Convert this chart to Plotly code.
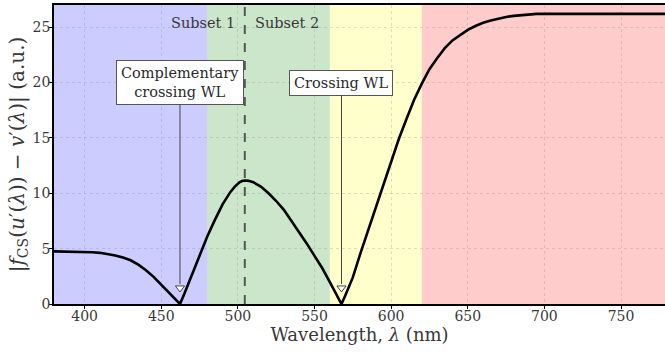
import plotly.graph_objects as go

# ---- data ----
wavelength = [380, 390, 400, 405, 410, 415, 420, 425, 430, 435, 440, 445, 450, 455, 460, 462.2,
              465, 470, 475, 480, 485, 490, 495, 498, 501, 503, 505, 507, 510, 515, 520, 525, 530, 535,
              540, 545, 550, 555, 560, 565, 567.6,
              570, 575, 580, 585, 590, 595, 600, 605, 610, 615, 620, 625, 630, 635, 640, 645,
              650, 655, 660, 665, 670, 675, 680, 685, 690, 695, 700, 740, 780]
diff = [4.75, 4.73, 4.70, 4.67, 4.62, 4.52, 4.38, 4.20, 3.95, 3.55, 3.05, 2.45, 1.75, 1.03, 0.32, 0.0,
        0.9, 2.6, 4.3, 6.1, 7.6, 9.0, 10.1, 10.6, 10.98, 11.12, 11.15, 11.12, 11.0, 10.6, 10.0, 9.3, 8.5, 7.5,
        6.5, 5.45, 4.35, 3.25, 1.98, 0.69, 0.0,
        0.75, 2.4, 4.6, 6.7, 8.8, 10.85, 12.9, 14.9, 16.7, 18.45, 19.9, 21.2, 22.2, 23.1, 23.8, 24.3,
        24.75, 25.1, 25.4, 25.6, 25.78, 25.92, 26.02, 26.1, 26.16, 26.2, 26.2, 26.2, 26.2]

band_edges = [380, 480, 560, 620, 780]
band_colors = ["rgba(0,0,255,0.2)", "rgba(0,128,0,0.2)", "rgba(255,255,0,0.2)", "rgba(255,0,0,0.2)"]
subset_boundary = 504.5
crossing_wl = [462.2, 567.6]
crossing_labels = ["Complementary<br>crossing WL", "Crossing WL"]
label_level = 20.0
x_ticks = [400, 450, 500, 550, 600, 650, 700, 750]
y_ticks = [0, 5, 10, 15, 20, 25]

FONT = "DejaVu Serif"
TXT = "#383838"
GRID = "rgba(128,128,128,0.25)"

fig = go.Figure()

fig.add_trace(go.Scatter(x=wavelength, y=diff, mode="lines",
                         line=dict(color="black", width=2.6), showlegend=False,
                         hoverinfo="skip"))

# hollow arrow heads
fig.add_trace(go.Scatter(x=crossing_wl, y=[1.45] * len(crossing_wl), mode="markers",
                         marker=dict(symbol="triangle-down", size=8, color="white",
                                     line=dict(color="#444444", width=1)),
                         showlegend=False, hoverinfo="skip"))

shapes = []
for i, c in enumerate(band_colors):
    shapes.append(dict(type="rect", xref="x", yref="paper", x0=band_edges[i], x1=band_edges[i + 1],
                       y0=0, y1=1, fillcolor=c, line=dict(width=0), layer="below"))
shapes.append(dict(type="line", xref="x", yref="paper", x0=subset_boundary, x1=subset_boundary,
                   y0=0, y1=1, line=dict(color="#555555", width=2, dash="dash"), layer="above"))

annotations = []
for wl, lab in zip(crossing_wl, crossing_labels):
    annotations.append(dict(x=wl, y=1.8, ax=wl, ay=label_level, xref="x", yref="y",
                            axref="x", ayref="y", text=lab, showarrow=True, arrowhead=0,
                            arrowwidth=1, arrowcolor="#444444", standoff=0, startstandoff=0,
                            font=dict(family=FONT, size=14.5, color="#2a2a2a"),
                            bgcolor="white", bordercolor="#555555", borderwidth=1, borderpad=4,
                            align="center"))
annotations.append(dict(x=subset_boundary, y=25.4, xref="x", yref="y", text="Subset 1",
                        showarrow=False, xanchor="right", xshift=-8, yanchor="middle",
                        font=dict(family=FONT, size=14.5, color=TXT)))
annotations.append(dict(x=subset_boundary, y=25.4, xref="x", yref="y", text="Subset 2",
                        showarrow=False, xanchor="left", xshift=8, yanchor="middle",
                        font=dict(family=FONT, size=14.5, color=TXT)))

fig.update_layout(
    width=665, height=354,
    margin=dict(l=54, r=0, t=5, b=50),
    paper_bgcolor="white", plot_bgcolor="white",
    shapes=shapes, annotations=annotations,
    font=dict(family=FONT, color=TXT),
)
fig.update_xaxes(range=[380, 778.7], tickvals=x_ticks, ticks="outside", ticklen=3,
                 tickcolor="black", showline=True, linecolor="black", linewidth=1.5, mirror=True,
                 showgrid=True, gridcolor=GRID, griddash="3px,3px", gridwidth=1,
                 zeroline=False, tickfont=dict(family=FONT, size=14, color=TXT), automargin=False,
                 ticklabelstandoff=-5,
                 title=dict(text="Wavelength, <i>λ</i> (nm)", font=dict(family=FONT, size=18, color=TXT),
                            standoff=4))
fig.update_yaxes(range=[0, 27], tickvals=y_ticks, ticks="outside", ticklen=3,
                 tickcolor="black", showline=True, linecolor="black", linewidth=1.5, mirror=False,
                 showgrid=True, gridcolor=GRID, griddash="3px,3px", gridwidth=1,
                 zeroline=False, tickfont=dict(family=FONT, size=14, color=TXT), automargin=False,
                 ticklabelstandoff=-4,
                 title=dict(text="|<i>f</i><sub>CS</sub>(<i>u</i>′(<i>λ</i>)) − <i>v</i>′(<i>λ</i>)| (a.u.)",
                            font=dict(family=FONT, size=20, color=TXT), standoff=3))

fig.write_html("out.html", config={"displayModeBar": False},
               post_script="document.body.style.margin='0';document.body.style.padding='0';")
